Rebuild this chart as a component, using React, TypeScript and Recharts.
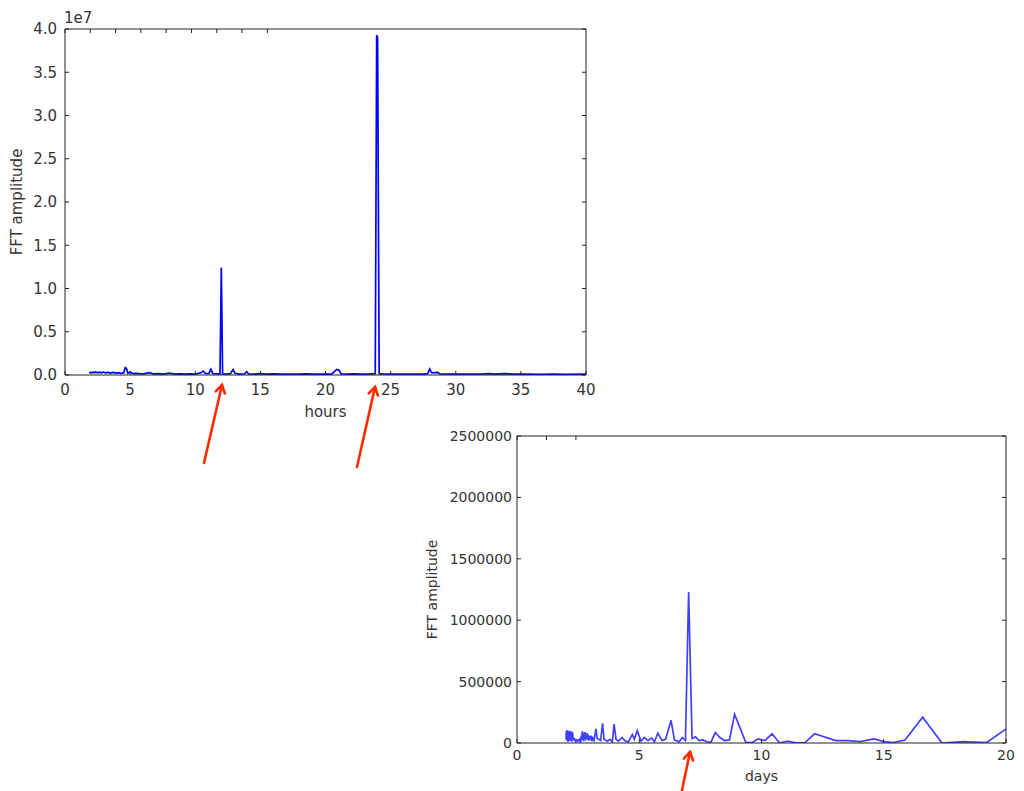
import React from 'react';
import { LineChart, Line, XAxis, YAxis } from 'recharts';

// top panel: period in hours vs FFT amplitude
const hoursX = [
  1.87, 1.95, 2.05, 2.15, 2.25, 2.35, 2.5, 2.65, 2.8, 2.95, 3.1, 3.3, 3.5, 3.7, 3.9, 4.1, 4.3, 4.5,
  4.62, 4.72, 4.82, 5.0, 5.2, 5.5, 5.8, 6.1, 6.5, 6.8, 7.2, 7.6, 8.0, 8.4, 8.8, 9.2, 9.6, 10.0,
  10.4, 10.6, 10.8, 11.05, 11.2, 11.35, 11.7, 11.9, 12.0, 12.1, 12.4, 12.7, 12.9, 13.05, 13.4,
  13.8, 13.95, 14.1, 14.6, 15.0, 15.5, 16.0, 16.5, 17.0, 17.5, 18.0, 18.5, 19.0, 19.5, 20.0,
  20.5, 20.85, 21.05, 21.2, 21.7, 22.2, 22.7, 23.2, 23.6, 23.82, 23.93, 24.0, 24.12, 24.4, 25.0, 25.5,
  26.0, 26.5, 27.0, 27.5, 27.85, 28.0, 28.15, 28.6, 28.8, 29.5, 30.0, 31.0, 32.0, 32.5, 33.0,
  33.7, 34.5, 35.5, 36.5, 37.5, 38.5, 40.0,
];
const hoursAmp = [
  2.0e5, 3.2e5, 2.4e5, 3.4e5, 2.6e5, 3.5e5, 2.5e5, 3.3e5, 2.6e5, 3.4e5, 2.4e5, 3.1e5, 2.3e5, 2.9e5, 2.1e5, 2.7e5, 2.0e5, 2.4e5,
  8.5e5, 7.5e5, 2.0e5, 3.5e5, 1.5e5, 1.8e5, 1.2e5, 1.6e5, 2.8e5, 1.2e5, 1.5e5, 1.1e5, 2.2e5, 1.1e5, 1.4e5, 1.0e5, 1.3e5, 1.1e5,
  2.5e5, 4.5e5, 1.5e5, 1.8e5, 6.5e5, 1.5e5, 1.2e5, 1.0e5, 1.24e7, 1.2e5, 1.0e5, 1.5e5, 6.2e5, 2.0e5, 1.1e5,
  1.4e5, 3.8e5, 1.2e5, 1.0e5, 1.6e5, 1.0e5, 1.2e5, 0.9e5, 1.1e5, 0.9e5, 1.0e5, 1.3e5, 0.9e5, 1.1e5, 0.9e5,
  1.2e5, 6.5e5, 5.5e5, 1.2e5, 1.0e5, 1.2e5, 0.9e5, 1.1e5, 1.4e5, 1.5e5, 3.93e7, 3.9e7, 1.5e5, 1.2e5, 1.0e5, 0.9e5,
  1.0e5, 0.9e5, 1.1e5, 1.0e5, 1.6e5, 7.0e5, 2.5e5, 3.0e5, 1.2e5, 1.0e5, 0.9e5, 1.0e5, 0.9e5, 1.5e5, 0.9e5,
  1.6e5, 0.9e5, 1.0e5, 0.8e5, 1.0e5, 0.8e5, 0.9e5,
];
const hoursTicks = [0, 5, 10, 15, 20, 25, 30, 35, 40];
const hoursAmpTicks = [0, 5e6, 1e7, 1.5e7, 2e7, 2.5e7, 3e7, 3.5e7, 4e7];

// bottom panel: period in days vs FFT amplitude
const daysX = [
  2.005, 2.012, 2.02, 2.026, 2.03, 2.036, 2.04, 2.046, 2.05, 2.057, 2.063, 2.07, 2.076, 2.08, 2.086,
  2.09, 2.096, 2.103, 2.11, 2.116, 2.12, 2.126, 2.13, 2.137, 2.143, 2.15, 2.156, 2.16, 2.166, 2.17,
  2.177, 2.183, 2.19, 2.196, 2.2, 2.206, 2.21, 2.217, 2.223, 2.23, 2.236, 2.24, 2.246, 2.25, 2.257,
  2.263, 2.27, 2.276, 2.28, 2.286, 2.3, 2.31, 2.33, 2.35, 2.37, 2.39, 2.41, 2.45, 2.5, 2.55,
  2.6, 2.63, 2.64, 2.65, 2.66, 2.67, 2.68, 2.69, 2.7, 2.71, 2.72, 2.73, 2.74, 2.75, 2.76, 2.77,
  2.78, 2.79, 2.8, 2.81, 2.82, 2.83, 2.845, 2.86, 2.87, 2.88, 2.89, 2.9, 2.91, 2.92, 2.935,
  2.95, 2.96, 2.97, 2.985, 3.0, 3.015, 3.03, 3.06, 3.1, 3.15, 3.23, 3.28, 3.35, 3.42, 3.5, 3.56, 3.62, 3.7, 3.8, 3.9,
  3.97, 4.05, 4.15, 4.3, 4.4, 4.55, 4.72, 4.8, 4.92, 5.07, 5.21, 5.36, 5.51, 5.62, 5.76, 5.93,
  6.08, 6.3, 6.44, 6.64, 6.76, 6.89, 7.02, 7.16, 7.3, 7.45, 7.6, 7.77, 7.93, 8.11, 8.3, 8.49,
  8.69, 8.9, 9.36, 9.6, 9.86, 10.14, 10.43, 10.74, 11.06, 11.4, 11.77, 12.17, 13.04, 13.52,
  14.04, 14.6, 15.0, 15.39, 15.87, 16.59, 17.38, 18.25, 19.21, 20.28,
];
const daysAmp = [
  30000, 80000, 95000, 50000, 20000, 90000, 105000, 60000, 40000, 95000, 35000, 90000, 60000, 10000, 70000,
  85000, 45000, 95000, 30000, 80000, 100000, 40000, 15000, 75000, 90000, 80000, 55000, 45000, 85000, 95000,
  60000, 30000, 20000, 65000, 70000, 50000, 35000, 80000, 95000, 90000, 40000, 10000, 70000, 60000, 30000,
  85000, 25000, 60000, 85000, 45000, 30000, 45000, 20000, 40000, 15000, 30000, 10000, 25000, 15000, 30000,
  10000, 60000, 40000, 20000, 70000, 95000, 55000, 30000, 75000, 85000, 45000, 15000, 60000, 70000, 85000, 40000,
  65000, 90000, 50000, 20000, 60000, 75000, 50000, 35000, 70000, 80000, 45000, 25000, 55000, 65000, 40000,
  20000, 45000, 55000, 30000, 30000, 50000, 60000, 15000, 40000, 20000, 115000, 35000, 30000, 20000, 160000, 30000, 25000, 15000, 30000, 10000,
  155000, 30000, 15000, 45000, 20000, 8000, 70000, 30000, 100000, 15000, 45000, 20000, 40000, 10000, 80000, 20000,
  30000, 185000, 25000, 10000, 45000, 20000, 1230000, 35000, 50000, 20000, 25000, 10000, 5000, 85000, 45000, 20000,
  25000, 235000, 3000, 3000, 33000, 19000, 75000, 0, 16000, 2000, 2000, 75000, 20000, 20000,
  11000, 33000, 11000, 4000, 24000, 210000, 0, 11000, 4000, 153000,
];
const daysTicks = [0, 5, 10, 15, 20];
const daysAmpTicks = [0, 500000, 1000000, 1500000, 2000000, 2500000];

const hoursData = hoursX.map((x, i) => ({ x, y: hoursAmp[i] }));
const daysData = daysX.map((x, i) => ({ x, y: daysAmp[i] }));

const FONT = '"DejaVu Sans", sans-serif';
const AXIS = '#222';
const TEXT = '#333';
const TICK_LEN = 4;

// matplotlib style: ticks point into the plot
function BottomTick(props: any) {
  const { x, y, payload, fs, gap, fmt } = props;
  return (
    <g>
      <line x1={x} y1={y} x2={x} y2={y - TICK_LEN} stroke={AXIS} />
      <text x={x} y={y + gap} textAnchor="middle" fontSize={fs} fontFamily={FONT} fill={TEXT}>
        {fmt ? fmt(payload.value) : payload.value}
      </text>
    </g>
  );
}

function LeftTick(props: any) {
  const { x, y, payload, fs, gap, fmt } = props;
  return (
    <g>
      <line x1={x} y1={y} x2={x + TICK_LEN} y2={y} stroke={AXIS} />
      <text x={x - gap} y={y} dy="0.36em" textAnchor="end" fontSize={fs} fontFamily={FONT} fill={TEXT}>
        {fmt ? fmt(payload.value) : payload.value}
      </text>
    </g>
  );
}

const TopTick = (props: any) => (
  <line x1={props.x} y1={props.y} x2={props.x} y2={props.y + TICK_LEN} stroke={AXIS} />
);
const RightTick = (props: any) => (
  <line x1={props.x} y1={props.y} x2={props.x - TICK_LEN} y2={props.y} stroke={AXIS} />
);

function XLabel(props: any) {
  const { viewBox, text, dy, fs } = props;
  if (!viewBox) return null;
  return (
    <text x={viewBox.x + viewBox.width / 2} y={viewBox.y + dy} textAnchor="middle" fontSize={fs} fontFamily={FONT} fill={TEXT}>
      {text}
    </text>
  );
}

function YLabel(props: any) {
  const { viewBox, text, dx, fs } = props;
  if (!viewBox) return null;
  const cx = viewBox.x + dx;
  const cy = viewBox.y + viewBox.height / 2;
  return (
    <text x={cx} y={cy} transform={`rotate(-90, ${cx}, ${cy})`} textAnchor="middle" dy="0.36em" fontSize={fs} fontFamily={FONT} fill={TEXT}>
      {text}
    </text>
  );
}

function Arrow({ x1, y1, x2, y2 }: { x1: number; y1: number; x2: number; y2: number }) {
  const a = Math.atan2(y2 - y1, x2 - x1);
  const len = 9;
  const spread = 0.55;
  const ax = x2 - len * Math.cos(a - spread);
  const ay = y2 - len * Math.sin(a - spread);
  const bx = x2 - len * Math.cos(a + spread);
  const by = y2 - len * Math.sin(a + spread);
  return (
    <g stroke="#ff2a00" strokeWidth={2.6} strokeLinecap="round" fill="none">
      <line x1={x1} y1={y1} x2={x2} y2={y2} />
      <polyline points={`${ax},${ay} ${x2},${y2} ${bx},${by}`} />
    </g>
  );
}

export default function App() {
  return (
    <div style={{ position: 'absolute', left: 0, top: 0, width: 1024, height: 791, background: '#fff' }}>
      {/* hours */}
      <div style={{ position: 'absolute', left: 0, top: 0 }}>
        <LineChart width={600} height={430} data={hoursData} margin={{ top: 28, right: 13, left: 0, bottom: 0 }}>
          <XAxis
            dataKey="x"
            type="number"
            domain={[0, 40]}
            ticks={hoursTicks}
            allowDataOverflow
            height={55}
            tickSize={0}
            tickMargin={0}
            axisLine={{ stroke: AXIS }}
            tickLine={false}
            tick={(p: any) => <BottomTick {...p} fs={15} gap={20} />}
            label={<XLabel text="hours" dy={42} fs={15} />}
          />
          <XAxis
            xAxisId="top"
            orientation="top"
            type="number"
            domain={[0, 40]}
            ticks={hoursTicks}
            allowDataOverflow
            height={1}
            tickSize={0}
            tickMargin={0}
            axisLine={{ stroke: AXIS }}
            tickLine={false}
            tick={TopTick}
          />
          <YAxis
            type="number"
            domain={[0, 4e7]}
            ticks={hoursAmpTicks}
            allowDataOverflow
            width={65}
            tickSize={0}
            tickMargin={0}
            axisLine={{ stroke: AXIS }}
            tickLine={false}
            tick={(p: any) => <LeftTick {...p} fs={15} gap={8} fmt={(v: number) => (v / 1e7).toFixed(1)} />}
            label={<YLabel text="FFT amplitude" dx={17} fs={15} />}
          />
          <YAxis
            yAxisId="right"
            orientation="right"
            type="number"
            domain={[0, 4e7]}
            ticks={hoursAmpTicks}
            allowDataOverflow
            width={1}
            tickSize={0}
            tickMargin={0}
            axisLine={{ stroke: AXIS }}
            tickLine={false}
            tick={RightTick}
          />
          <Line type="linear" dataKey="y" stroke="#0000ff" strokeWidth={1.7} dot={false} isAnimationActive={false} />
        </LineChart>
      </div>

      {/* days */}
      <div style={{ position: 'absolute', left: 400, top: 420 }}>
        <LineChart width={620} height={371} data={daysData} margin={{ top: 15, right: 13, left: 0, bottom: 0 }}>
          <XAxis
            dataKey="x"
            type="number"
            domain={[0, 20]}
            ticks={daysTicks}
            allowDataOverflow
            height={48}
            tickSize={0}
            tickMargin={0}
            axisLine={{ stroke: AXIS }}
            tickLine={false}
            tick={(p: any) => <BottomTick {...p} fs={14} gap={17} />}
            label={<XLabel text="days" dy={38} fs={14} />}
          />
          <XAxis
            xAxisId="top"
            orientation="top"
            type="number"
            domain={[0, 20]}
            ticks={daysTicks}
            allowDataOverflow
            height={1}
            tickSize={0}
            tickMargin={0}
            axisLine={{ stroke: AXIS }}
            tickLine={false}
            tick={TopTick}
          />
          <YAxis
            type="number"
            domain={[0, 2500000]}
            ticks={daysAmpTicks}
            allowDataOverflow
            width={117}
            tickSize={0}
            tickMargin={0}
            axisLine={{ stroke: AXIS }}
            tickLine={false}
            tick={(p: any) => <LeftTick {...p} fs={14} gap={5} />}
            label={<YLabel text="FFT amplitude" dx={32} fs={14} />}
          />
          <YAxis
            yAxisId="right"
            orientation="right"
            type="number"
            domain={[0, 2500000]}
            ticks={daysAmpTicks}
            allowDataOverflow
            width={1}
            tickSize={0}
            tickMargin={0}
            axisLine={{ stroke: AXIS }}
            tickLine={false}
            tick={RightTick}
          />
          <Line type="linear" dataKey="y" stroke="#0000ff" strokeOpacity={0.75} strokeWidth={1.7} dot={false} isAnimationActive={false} />
        </LineChart>
      </div>

      {/* offset text and annotation arrows */}
      <svg width={1024} height={791} style={{ position: 'absolute', left: 0, top: 0, pointerEvents: 'none' }}>
        <text x={64} y={23} fontSize={15} fontFamily={FONT} fill={TEXT}>1e7</text>
        <Arrow x1={204} y1={463} x2={222} y2={385} />
        <Arrow x1={357} y1={467} x2={375} y2={387} />
        <Arrow x1={681} y1={795} x2={690} y2={752} />
      </svg>
    </div>
  );
}
